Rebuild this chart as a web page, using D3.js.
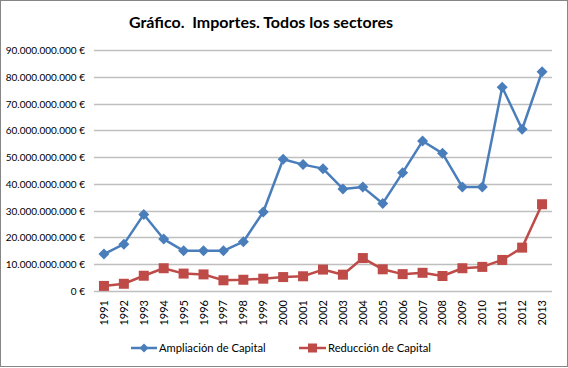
<!DOCTYPE html>
<html><head><meta charset="utf-8">
<script src="https://cdn.jsdelivr.net/npm/d3@7"></script>
<style>
body{margin:0;background:#fff;}
svg{display:block;font-family:"Lato","Open Sans",sans-serif;}
</style></head>
<body><svg id="c" width="568" height="368"></svg>
<script>
const years = ["1991","1992","1993","1994","1995","1996","1997","1998","1999","2000","2001","2002","2003","2004","2005","2006","2007","2008","2009","2010","2011","2012","2013"];
const ampliacion = [13.8,17.5,28.6,19.4,15.0,15.0,15.0,18.4,29.5,49.2,47.2,45.7,38.1,38.8,32.7,44.2,56.0,51.4,38.8,38.8,76.1,60.4,81.9].map(v=>v*1e9);
const reduccion = [1.9,2.7,5.7,8.5,6.5,6.2,4.0,4.2,4.6,5.2,5.5,8.0,6.1,12.3,8.1,6.3,6.8,5.6,8.5,9.0,11.6,16.2,32.4].map(v=>v*1e9);
const yTicks = [0,1e10,2e10,3e10,4e10,5e10,6e10,7e10,8e10,9e10];
const seriesNames = ["Ampliación de Capital","Reducción de Capital"];
const colors = ["#4A7EBB","#BE4B48"];
const title = "Gráfico.\u00A0\u00A0Importes. Todos los sectores";

const svg = d3.select("#c");
svg.append("rect").attr("x",0.5).attr("y",0.5).attr("width",567).attr("height",366)
  .attr("fill","#fff").attr("stroke","#868686").attr("stroke-width",1);

const L=94,R=552,T=50,B=291;
const x = d3.scaleBand().domain(years).range([L,R]);
const y = d3.scaleLinear().domain([0,9e10]).range([B,T]);

const fmt = v => (v===0?"0":d3.format(",")(v).replace(/,/g,".")) + " €";

svg.append("g").selectAll("line").data(yTicks).join("line")
  .attr("x1",L).attr("x2",R).attr("y1",d=>Math.round(y(d))+0.5).attr("y2",d=>Math.round(y(d))+0.5)
  .attr("stroke","#BFBFBF").attr("stroke-width",1.3);

svg.append("g").selectAll("text").data(yTicks).join("text")
  .attr("x",85).attr("y",d=>y(d)+4).attr("text-anchor","end")
  .attr("font-size",10).attr("fill","#000").text(fmt);

svg.append("g").selectAll("text").data(years).join("text")
  .attr("transform",d=>`translate(${x(d)+x.bandwidth()/2+4},300) rotate(-90)`)
  .attr("text-anchor","end").attr("font-size",11).attr("fill","#000").text(d=>d);

svg.append("text").attr("x",261).attr("y",28).attr("text-anchor","middle")
  .attr("font-size",16).attr("font-weight","bold").text(title);

const cx = d => x(d)+x.bandwidth()/2;
const line = d3.line().x((d,i)=>cx(years[i])).y(d=>y(d));
const diamond = s => `M0,${-s}L${s},0L0,${s}L${-s},0Z`;

[ampliacion,reduccion].forEach((data,k)=>{
  svg.append("path").datum(data).attr("d",line).attr("fill","none")
    .attr("stroke",colors[k]).attr("stroke-width",2.5).attr("stroke-linejoin","round");
  const g = svg.append("g");
  if(k===0){
    g.selectAll("path").data(data).join("path")
      .attr("transform",(d,i)=>`translate(${cx(years[i])},${y(d)})`)
      .attr("d",diamond(5.5)).attr("fill",colors[k]);
  } else {
    g.selectAll("rect").data(data).join("rect")
      .attr("x",(d,i)=>cx(years[i])-5).attr("y",d=>y(d)-5)
      .attr("width",10).attr("height",10).attr("fill",colors[k]);
  }
});

// legend
const lg = [{x1:131,x2:157,tx:159},{x1:299,x2:326,tx:328}];
lg.forEach((o,k)=>{
  const ly=348;
  svg.append("line").attr("x1",o.x1).attr("x2",o.x2).attr("y1",ly).attr("y2",ly)
    .attr("stroke",colors[k]).attr("stroke-width",2.5);
  const mx=(o.x1+o.x2)/2;
  if(k===0) svg.append("path").attr("transform",`translate(${mx},${ly})`).attr("d",diamond(4.5)).attr("fill",colors[k]);
  else svg.append("rect").attr("x",mx-4.5).attr("y",ly-4.5).attr("width",9).attr("height",9).attr("fill",colors[k]);
  svg.append("text").attr("x",o.tx).attr("y",ly+4).attr("font-size",11.2).text(seriesNames[k]);
});
</script></body></html>
